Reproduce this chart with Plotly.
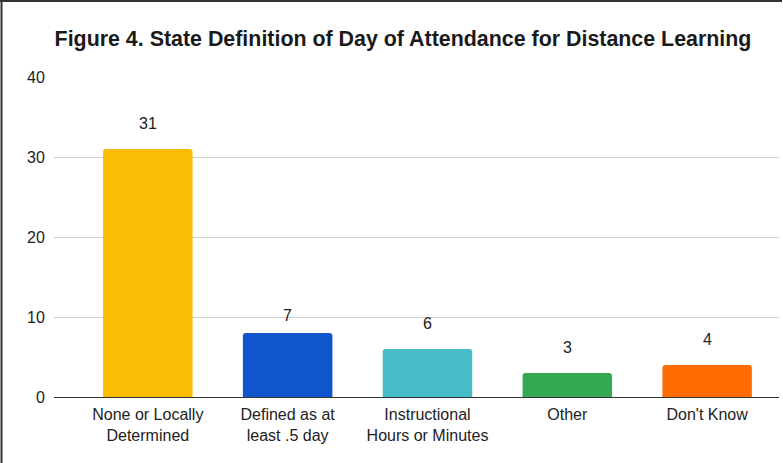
import plotly.graph_objects as go

categories = ["None or Locally<br>Determined", "Defined as at<br>least .5 day",
              "Instructional<br>Hours or Minutes", "Other", "Don't Know"]
bar_values = [31, 8, 6, 3, 4]
label_values = [31, 7, 6, 3, 4]
label_texts = ["31", "7", "6", "3", "4"]
bar_colors = ["#FBBC04", "#1155CC", "#46BDC6", "#34A853", "#FF6D01"]
y_ticks = [0, 10, 20, 30, 40]

W, H = 783, 463
L, R, T, B = 54, 4, 77, 66

fig = go.Figure()
fig.add_trace(go.Bar(
    x=list(range(len(categories))), y=bar_values,
    marker=dict(color=bar_colors, cornerradius=3, line=dict(width=0)),
    width=0.64, hoverinfo="skip",
))

for i, (lv, lt) in enumerate(zip(label_values, label_texts)):
    fig.add_annotation(x=i, y=lv, text=lt, showarrow=False, yshift=26,
                       yanchor="middle", font=dict(size=16, color="#222222"))

pw = W - L - R
ph = H - T - B
px = lambda p: (p - L) / pw
py = lambda p: (H - B - p) / ph
fig.add_shape(type="line", xref="paper", yref="paper",
              x0=px(1.5), x1=px(1.5), y0=py(H + 2), y1=py(0),
              line=dict(color="#333333", width=2))
fig.add_shape(type="line", xref="paper", yref="paper",
              x0=px(0), x1=px(W - 1), y0=py(1), y1=py(1),
              line=dict(color="#333333", width=2))

fig.update_layout(
    width=W, height=H,
    margin=dict(l=L, r=R, t=T, b=B, pad=0),
    paper_bgcolor="white", plot_bgcolor="white",
    showlegend=False,
    font=dict(family="Liberation Sans, Arial, sans-serif", color="#222222"),
    title=dict(text="<b>Figure 4. State Definition of Day of Attendance for Distance Learning</b>",
               x=403 / W, xanchor="center", y=1 - 39 / H, yanchor="middle",
               font=dict(size=21.4, color="#1a1a1a")),
    xaxis=dict(range=[-0.671, 4.514], tickmode="array",
               tickvals=list(range(len(categories))), ticktext=categories,
               showgrid=False, zeroline=False, showline=False,
               ticks="outside", ticklen=3, tickcolor="rgba(0,0,0,0)",
               tickfont=dict(size=16, color="#222222"), fixedrange=True),
    yaxis=dict(range=[0, 40], tickmode="array", tickvals=y_ticks,
               showgrid=True, gridcolor="#d0d0d0", gridwidth=1,
               zeroline=True, zerolinecolor="#333333", zerolinewidth=1,
               showline=False, ticks="outside", ticklen=5,
               tickcolor="rgba(0,0,0,0)",
               tickfont=dict(size=16, color="#222222"), fixedrange=True),
)

fig.write_html("out.html", config={"displayModeBar": False, "staticPlot": True},
               post_script="document.body.style.margin='0';document.body.style.overflow='hidden';")
